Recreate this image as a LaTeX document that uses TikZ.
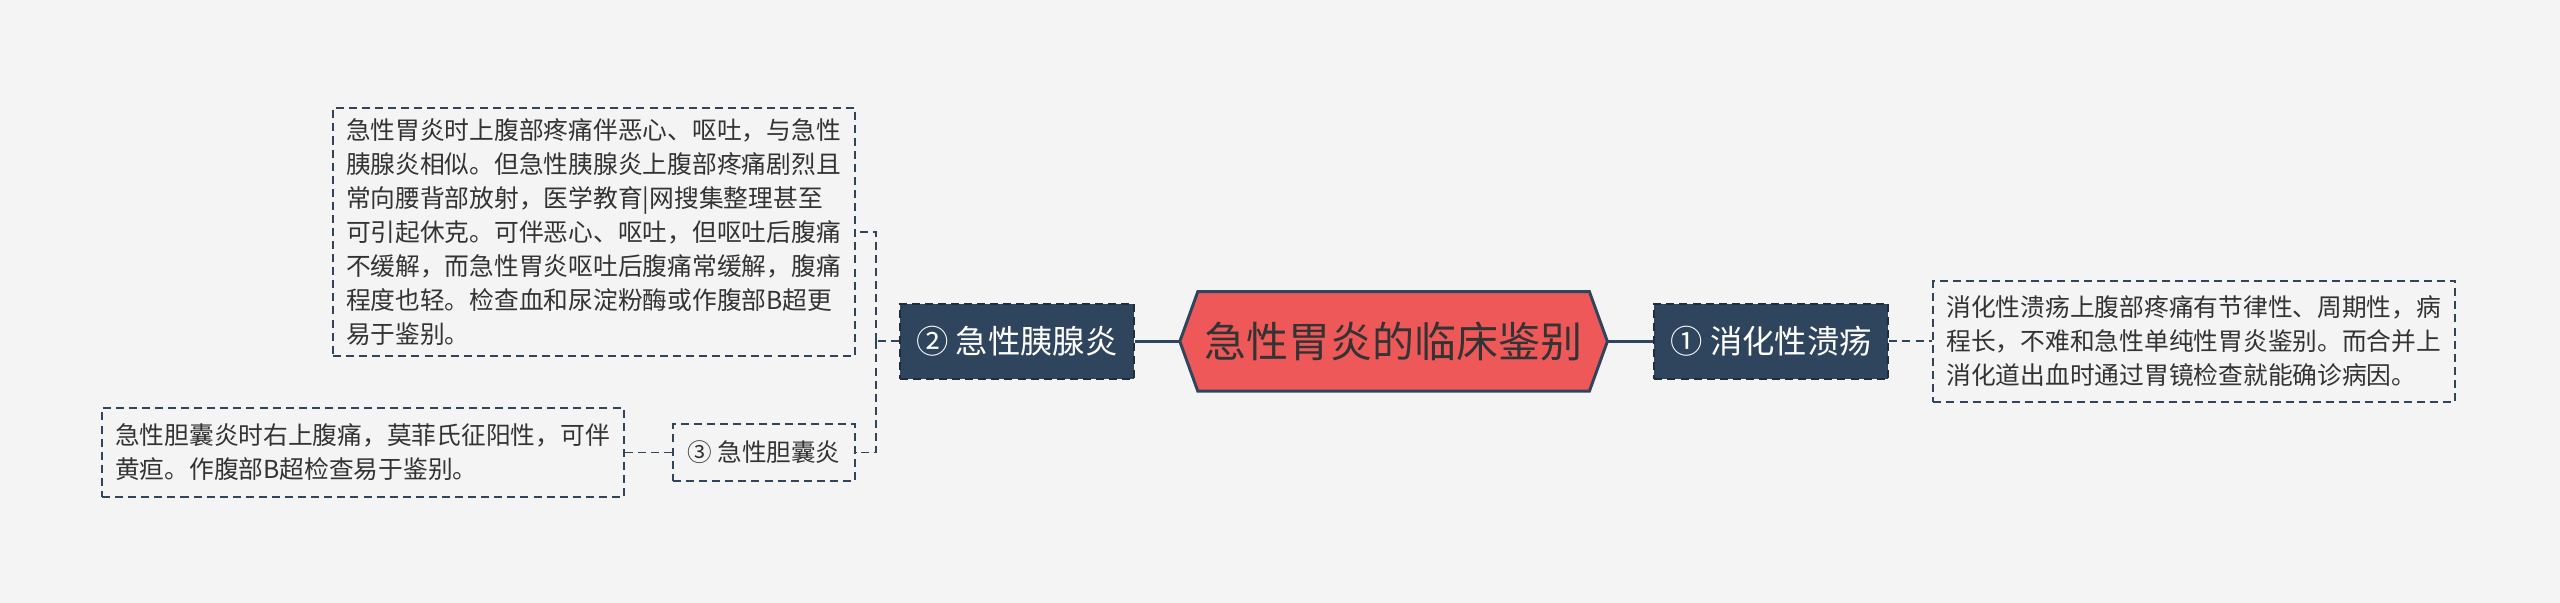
\documentclass[tikz,border=0pt]{standalone}
\usepackage{fontspec}
\setmainfont{Noto Sans CJK SC}
\usetikzlibrary{positioning}

\definecolor{paper}{HTML}{F4F4F4}
\definecolor{navy}{HTML}{2F455E}
\definecolor{coral}{HTML}{EF5858}
\definecolor{ink}{HTML}{333333}

\pgfdeclarelayer{background}
\pgfsetlayers{background,main}

\begin{document}
\begin{tikzpicture}[
    node distance=1.1cm,
    every node/.style={inner sep=0pt, text=ink},
    rootnode/.style={minimum width=10.675cm, minimum height=2.475cm, font=\fontsize{29.9}{34}\selectfont},
    topic/.style={fill=navy, draw=navy!65!black, line width=1.4pt, dash pattern=on 5.7pt off 3.6pt,
                  minimum width=5.85cm, minimum height=1.875cm, font=\fontsize{23}{26}\selectfont, text=white},
    subtopic/.style={draw=navy, line width=1.4pt, dash pattern=on 5.7pt off 3.6pt,
                     minimum width=4.55cm, minimum height=1.425cm, font=\fontsize{17.5}{20}\selectfont},
    note/.style={draw=navy, line width=1.4pt, dash pattern=on 5.7pt off 3.6pt, align=left,
                 text width=12.4cm, inner xsep=0.325cm, font=\fontsize{17.6}{24.2}\selectfont},
    trunk/.style={draw=navy, line width=2.1pt},
    twig/.style={draw=navy, line width=1.4pt, dash pattern=on 5.7pt off 3.6pt}
]

% Page
\begin{pgfonlayer}{background}
\path[use as bounding box, fill=paper] (0,0) rectangle (64,15.075);
\end{pgfonlayer}

% Central topic
\node[rootnode] (root) at (34.84, 6.54) {急性胃炎的临床鉴别};

% Main topics
\node[topic, right=1.15cm of root] (n1) {① 消化性溃疡};
\node[topic, left=1.125cm of root] (n2) {② 急性胰腺炎};

% Sub topic
\node[subtopic, anchor=east] (n3) at (21.4, 3.7625) {③ 急性胆囊炎};

% Notes
\node[note, minimum height=3.025cm, right=1.075cm of n1] (d1) {
消化性溃疡上腹部疼痛有节律性、周期性，病\\
程长，不难和急性单纯性胃炎鉴别。而合并上\\
消化道出血时通过胃镜检查就能确诊病因。
};
\node[note, minimum height=6.2cm, anchor=east] (d2) at (21.4, 9.275) {
急性胃炎时上腹部疼痛伴恶心、呕吐，与急性\\
胰腺炎相似。但急性胰腺炎上腹部疼痛剧烈且\\
常向腰背部放射，医学教育|网搜集整理甚至\\
可引起休克。可伴恶心、呕吐，但呕吐后腹痛\\
不缓解，而急性胃炎呕吐后腹痛常缓解，腹痛\\
程度也轻。检查血和尿淀粉酶或作腹部B超更\\
易于鉴别。
};
\node[note, minimum height=2.225cm, left=1.175cm of n3] (d3) {
急性胆囊炎时右上腹痛，莫菲氏征阳性，可伴\\
黄疸。作腹部B超检查易于鉴别。
};

% Hexagon behind the central topic
\begin{pgfonlayer}{background}
\draw[fill=coral, draw=navy, line width=2.1pt]
    (root.west) -- ([xshift=0.45cm]root.north west) -- ([xshift=-0.45cm]root.north east)
    -- (root.east) -- ([xshift=-0.45cm]root.south east) -- ([xshift=0.45cm]root.south west) -- cycle;
\end{pgfonlayer}

% Connectors
\draw[trunk] (n2) -- (root);
\draw[trunk] (root) -- (n1);
\draw[twig] (n1) -- (d1);
\draw[twig] (n2.west) -- ++(-0.575,0) coordinate (fork);
\draw[twig] (fork) |- (d2.east);
\draw[twig] (fork) |- (n3.east);
\draw[twig] (n3) -- (d3);

\end{tikzpicture}
\end{document}
